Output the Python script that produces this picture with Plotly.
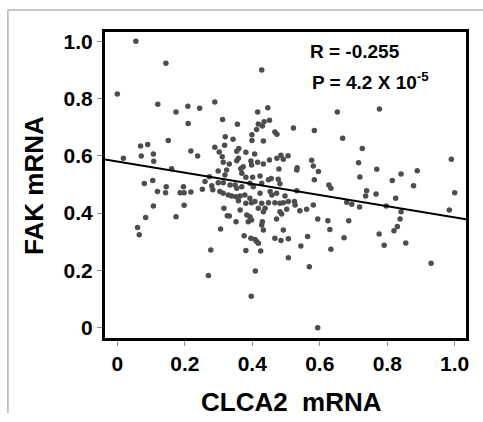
import plotly.graph_objects as go

# CLCA2 mRNA (x) and FAK mRNA (y)
clca2_mrna = [
    0.055, 0.144, 0.000, 0.120, 0.069, 0.090, 0.071, 0.107, 0.108, 0.151, 0.018, 0.080, 0.105, 0.119, 0.145, 0.143, 0.107, 0.161, 0.084, 0.060, 0.065,
    0.174, 0.209, 0.244, 0.289, 0.210, 0.312, 0.356, 0.399, 0.399, 0.320, 0.343, 0.318, 0.289, 0.360, 0.354, 0.381, 0.407, 0.218, 0.238, 0.302, 0.311, 0.314, 0.332, 0.359, 0.354, 0.396, 0.373, 0.366, 0.398,
    0.428, 0.416, 0.446, 0.435, 0.451, 0.418, 0.430, 0.413, 0.467, 0.473, 0.522, 0.584, 0.652, 0.433, 0.416, 0.433, 0.451, 0.473, 0.485, 0.492, 0.506, 0.479, 0.533, 0.576, 0.581,
    0.299, 0.324, 0.319, 0.369, 0.381, 0.401, 0.273, 0.260, 0.280, 0.283, 0.196, 0.186, 0.198, 0.218, 0.252, 0.299, 0.314, 0.334, 0.349, 0.354, 0.369, 0.393, 0.403, 0.304, 0.314, 0.329, 0.339, 0.352, 0.364, 0.378, 0.393, 0.359, 0.381, 0.398, 0.198, 0.174, 0.316, 0.326, 0.332, 0.364, 0.384, 0.393, 0.388, 0.398, 0.352, 0.306, 0.376, 0.396, 0.277, 0.381, 0.270, 0.397,
    0.423, 0.448, 0.456, 0.477, 0.482, 0.428, 0.532, 0.596, 0.584, 0.627, 0.633, 0.423, 0.453, 0.458, 0.472, 0.497, 0.532, 0.408, 0.428, 0.418, 0.438, 0.448, 0.467, 0.482, 0.492, 0.507, 0.525, 0.527, 0.433, 0.482, 0.487, 0.502, 0.541, 0.561, 0.581, 0.472, 0.430, 0.428, 0.433, 0.492, 0.594, 0.624, 0.630, 0.408, 0.413, 0.418, 0.467, 0.485, 0.507, 0.564, 0.425, 0.507, 0.544, 0.633, 0.569, 0.594, 0.409,
    0.777, 0.668, 0.726, 0.715, 0.769, 0.719, 0.815, 0.841, 0.889, 0.990, 0.878, 0.739, 0.736, 0.767, 0.825, 1.000, 0.680, 0.695, 0.718, 0.797, 0.841, 0.984, 0.838, 0.830, 0.820, 0.686, 0.672, 0.776, 0.791, 0.855, 0.930,
]
fak_mrna = [
    1.000, 0.923, 0.816, 0.780, 0.634, 0.639, 0.599, 0.606, 0.581, 0.653, 0.591, 0.503, 0.514, 0.475, 0.492, 0.471, 0.425, 0.555, 0.385, 0.350, 0.324,
    0.753, 0.773, 0.766, 0.788, 0.713, 0.727, 0.710, 0.673, 0.653, 0.666, 0.658, 0.637, 0.630, 0.625, 0.616, 0.612, 0.606, 0.617, 0.599, 0.613, 0.597, 0.577, 0.571, 0.591, 0.583, 0.582, 0.562, 0.555, 0.568,
    0.899, 0.753, 0.768, 0.719, 0.724, 0.711, 0.704, 0.692, 0.683, 0.675, 0.697, 0.688, 0.753, 0.652, 0.577, 0.571, 0.585, 0.591, 0.602, 0.588, 0.600, 0.554, 0.558, 0.584, 0.564,
    0.547, 0.550, 0.533, 0.539, 0.525, 0.525, 0.527, 0.510, 0.495, 0.481, 0.492, 0.471, 0.471, 0.474, 0.483, 0.506, 0.506, 0.498, 0.498, 0.487, 0.492, 0.504, 0.492, 0.475, 0.469, 0.463, 0.460, 0.457, 0.460, 0.463, 0.452, 0.443, 0.434, 0.436, 0.427, 0.387, 0.417, 0.391, 0.390, 0.411, 0.393, 0.387, 0.370, 0.376, 0.370, 0.344, 0.321, 0.312, 0.271, 0.269, 0.182, 0.110,
    0.529, 0.516, 0.521, 0.518, 0.502, 0.504, 0.550, 0.545, 0.516, 0.498, 0.487, 0.469, 0.475, 0.463, 0.469, 0.460, 0.478, 0.440, 0.434, 0.417, 0.417, 0.436, 0.436, 0.434, 0.436, 0.440, 0.440, 0.428, 0.405, 0.405, 0.397, 0.413, 0.408, 0.413, 0.428, 0.379, 0.370, 0.358, 0.341, 0.341, 0.379, 0.373, 0.343, 0.308, 0.301, 0.295, 0.312, 0.304, 0.310, 0.318, 0.268, 0.244, 0.285, 0.274, 0.213, 0.000, 0.198,
    0.763, 0.661, 0.625, 0.576, 0.553, 0.526, 0.514, 0.536, 0.548, 0.588, 0.495, 0.478, 0.460, 0.467, 0.452, 0.471, 0.438, 0.431, 0.421, 0.425, 0.405, 0.411, 0.379, 0.353, 0.338, 0.373, 0.314, 0.327, 0.288, 0.296, 0.225,
]

# regression line
fit_intercept = 0.580
fit_slope = -0.195

tick_values = [0, 0.2, 0.4, 0.6, 0.8, 1.0]
x_tick_labels = ["0", "0.2", "0.4", "0.6", "0.8", "1.0"]
y_tick_labels = ["0", "0.2", "0.4", "0.6", "0.8", "1.0"]

x_range = [-0.0365, 1.0335]
y_range = [-0.036, 1.032]

FONT = "Liberation Sans, Arial, Helvetica, sans-serif"

fig = go.Figure()
fig.add_trace(go.Scatter(
    x=clca2_mrna, y=fak_mrna, mode="markers",
    marker=dict(size=5.5, color="#4d4d4d", line=dict(width=0)),
    showlegend=False, hoverinfo="x+y",
))
fit_x = x_range
fit_y = [fit_intercept + fit_slope * v for v in fit_x]
fig.add_trace(go.Scatter(
    x=fit_x, y=fit_y, mode="lines",
    line=dict(color="black", width=2),
    showlegend=False, hoverinfo="skip",
))

axis_common = dict(
    showgrid=False, zeroline=False,
    showline=True, linecolor="black", linewidth=3, mirror=True,
    ticks="outside", ticklen=5, tickwidth=1, tickcolor="#8c8c8c",
    tickfont=dict(family=FONT, size=21, color="black", weight="bold"),
    tickvals=tick_values,
)
fig.update_xaxes(range=x_range, ticktext=x_tick_labels, **axis_common)
fig.update_yaxes(range=y_range, ticktext=y_tick_labels, **axis_common)

fig.update_layout(
    width=483, height=422,
    margin=dict(l=105, r=17, t=32, b=84),
    paper_bgcolor="white", plot_bgcolor="white",
    font=dict(family=FONT, color="black"),
    annotations=[
        dict(text="R = -0.255", xref="paper", yref="paper", x=0.561, y=0.935,
             xanchor="left", yanchor="middle", showarrow=False,
             font=dict(family=FONT, size=19, color="black", weight="bold")),
        dict(text="P = 4.2 X 10<sup>-5</sup>", xref="paper", yref="paper", x=0.567, y=0.84,
             xanchor="left", yanchor="middle", showarrow=False,
             font=dict(family=FONT, size=19, color="black", weight="bold")),
        dict(text="CLCA2\u00a0\u00a0mRNA", xref="paper", yref="paper", x=0.516, y=-0.209,
             xanchor="center", yanchor="middle", showarrow=False,
             font=dict(family=FONT, size=26, color="black", weight="bold")),
        dict(text="FAK mRNA", xref="paper", yref="paper", x=-0.197, y=0.50,
             xanchor="center", yanchor="middle", textangle=-90, showarrow=False,
             font=dict(family=FONT, size=26, color="black", weight="bold")),
    ],
    shapes=[
        dict(type="line", xref="paper", yref="paper", x0=-0.269, x1=1.05, y0=1.072, y1=1.072,
             line=dict(color="#b4b4b4", width=1.5)),
        dict(type="line", xref="paper", yref="paper", x0=-0.269, x1=-0.269, y0=1.072, y1=-0.245,
             line=dict(color="#b4b4b4", width=1.5)),
    ],
)

fig.write_html("out.html", config={"displayModeBar": False},
               post_script="document.body.style.margin='0';")
